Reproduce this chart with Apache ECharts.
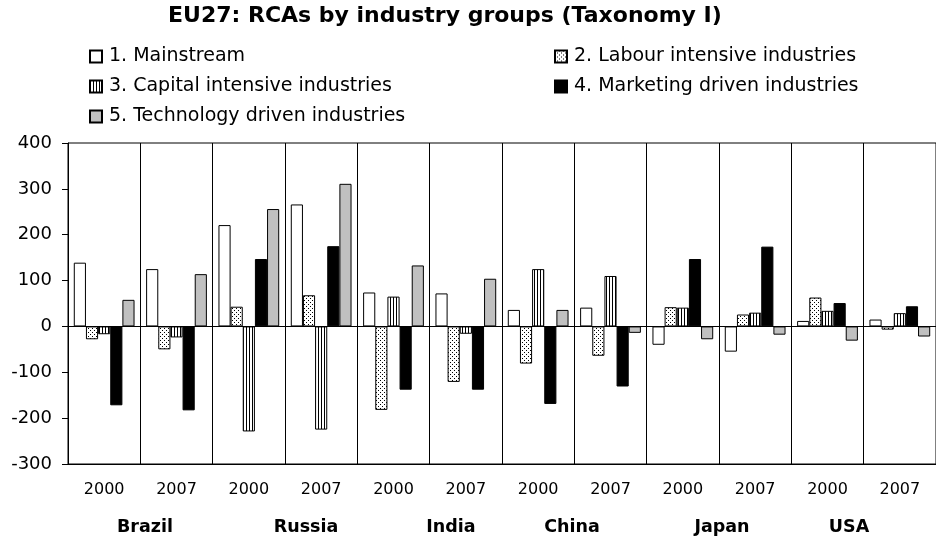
<!DOCTYPE html>
<html>
<head>
<meta charset="utf-8">
<script src="https://cdn.jsdelivr.net/npm/echarts@6/dist/echarts.min.js"></script>
<style>
  html, body { margin: 0; padding: 0; background: #fff; }
  #chart { width: 936px; height: 542px; }
</style>
</head>
<body>
<div id="chart"></div>
<script>
// data
var countries = ['Brazil', 'Russia', 'India', 'China', 'Japan', 'USA']
var years = ['2000', '2007']
var seriesNames = [
  '1. Mainstream',
  '2. Labour intensive industries',
  '3. Capital intensive industries',
  '4. Marketing driven industries',
  '5. Technology driven industries'
]
var mainstream = [139, 125, 221, 266, 74, 72, 36, 41, -40, -55, 12, 15]
var labour = [-28, -50, 43, 68, -182, -121, -81, -64, 42, 26, 63, -7]
var capital = [-17, -24, -229, -225, 65, -16, 125, 110, 41, 30, 34, 29]
var marketing = [-172, -183, 147, 175, -138, -138, -169, -131, 147, 174, 51, 44]
var technology = [58, 114, 256, 311, 133, 104, 36, -14, -28, -18, -31, -22]
var yTicks = { min: -300, max: 400, step: 100 }

// categories: one per country and year
var categories = []
countries.forEach(function (c) {
  years.forEach(function (y) { categories.push(c + '|' + y) })
})

// small fill patterns
function makePattern (w, h, draw) {
  var cv = document.createElement('canvas')
  cv.width = w
  cv.height = h
  var ctx = cv.getContext('2d')
  ctx.fillStyle = '#fff'
  ctx.fillRect(0, 0, w, h)
  ctx.fillStyle = '#000'
  draw(ctx)
  return { image: cv, repeat: 'repeat' }
}
var dots = makePattern(4, 4, function (ctx) {
  ctx.fillRect(0, 0, 1, 1)
  ctx.fillRect(2, 2, 1, 1)
})
var stripes = makePattern(3, 1, function (ctx) {
  ctx.fillRect(0, 0, 1, 1)
})

var fills = ['#ffffff', dots, stripes, '#000000', '#c0c0c0']
var values = [mainstream, labour, capital, marketing, technology]
var FONT = 'DejaVu Sans'

var series = values.map(function (v, i) {
  var s = {
    name: seriesNames[i],
    type: 'bar',
    data: v,
    barGap: '0%',
    barCategoryGap: '16%',
    itemStyle: { color: fills[i], borderColor: '#000', borderWidth: 1 },
    emphasis: { disabled: true }
  }
  if (i === 0) {
    // zero line
    s.markLine = {
      silent: true,
      symbol: 'none',
      label: { show: false },
      lineStyle: { color: '#000', width: 1, type: 'solid' },
      data: [{ yAxis: 0 }]
    }
  }
  return s
})

// legend positions (two columns)
var legendPos = [
  [89, 47], [554, 47],
  [89, 77], [554, 77],
  [89, 107]
]
var legends = seriesNames.map(function (n, i) {
  return {
    data: [n],
    left: legendPos[i][0],
    top: legendPos[i][1],
    padding: 0,
    itemWidth: 12,
    itemHeight: 12,
    icon: 'rect',
    selectedMode: false,
    textStyle: { fontFamily: FONT, fontSize: 19, color: '#000', padding: [0, 0, 0, 2] }
  }
})

var countryX = [145, 306, 451, 572, 722, 849]

var myChart = echarts.init(document.getElementById('chart'))
myChart.setOption({
  animation: false,
  title: {
    text: 'EU27: RCAs by industry groups (Taxonomy I)',
    left: 168,
    top: 5,
    padding: 0,
    textStyle: { fontFamily: FONT, fontSize: 22, fontWeight: 'bold', color: '#000' }
  },
  legend: legends,
  grid: {
    left: 68,
    top: 143,
    width: 872,
    height: 321,
    show: true,
    borderColor: '#000',
    borderWidth: 1
  },
  xAxis: {
    type: 'category',
    data: categories,
    axisLine: { onZero: false, lineStyle: { color: '#000', width: 1 } },
    axisTick: { show: false },
    splitLine: { show: true, lineStyle: { color: '#000', width: 1 } },
    axisLabel: {
      interval: 0,
      margin: 18,
      fontFamily: FONT,
      fontSize: 16,
      color: '#000',
      formatter: function (v) { return v.split('|')[1] }
    }
  },
  yAxis: {
    type: 'value',
    min: yTicks.min,
    max: yTicks.max,
    interval: yTicks.step,
    axisLine: { show: true, lineStyle: { color: '#000', width: 1 } },
    axisTick: { show: true, length: 6, lineStyle: { color: '#000' } },
    splitLine: { show: false },
    axisLabel: { margin: 16, fontFamily: FONT, fontSize: 18, color: '#000' }
  },
  graphic: countries.map(function (c, i) {
    return {
      type: 'text',
      x: countryX[i],
      y: 527,
      style: {
        text: c,
        font: 'bold 17.5px "DejaVu Sans"',
        fill: '#000',
        textAlign: 'center',
        textVerticalAlign: 'middle'
      }
    }
  }),
  series: series
})
</script>
</body>
</html>
